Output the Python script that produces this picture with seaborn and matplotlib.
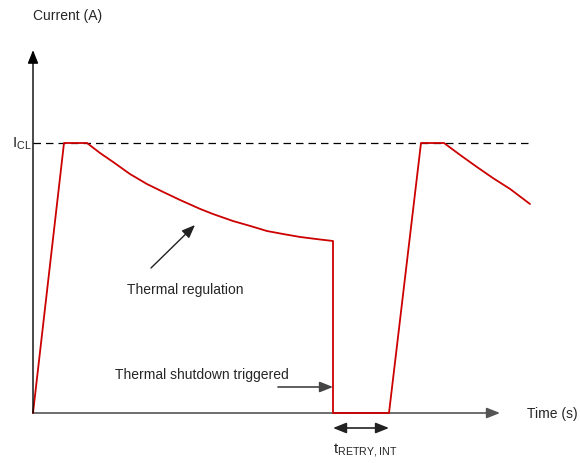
import matplotlib
matplotlib.use("Agg")
import matplotlib.pyplot as plt
import pandas as pd
import seaborn as sns

# Current waveform during thermal regulation / shutdown / auto-retry
time_s = [0.0, 3.1, 5.4, 6.7, 8.0, 9.7, 11.4, 13.0, 14.7, 16.7, 18.0, 20.0,
          21.7, 23.4, 25.0, 26.7, 28.4, 30.0,
          30.0, 35.6, 38.8, 41.1, 42.7, 44.4, 46.0, 47.7, 49.7]
current_a = [0.0, 1.0, 1.0, 0.963, 0.930, 0.885, 0.848, 0.819, 0.789, 0.756, 0.737, 0.711,
             0.693, 0.674, 0.663, 0.652, 0.644, 0.637,
             0.0, 0.0, 1.0, 1.0, 0.956, 0.911, 0.870, 0.830, 0.774]
current_limit = 1.0
retry_start, retry_end = 30.0, 35.6

sns.set_style("white")
plt.rcParams["font.family"] = ["Liberation Sans", "DejaVu Sans"]
plt.rcParams["mathtext.fontset"] = "custom"
plt.rcParams["mathtext.rm"] = "Liberation Sans"

fig = plt.figure(figsize=(5.8, 4.64), dpi=100)
ax = fig.add_axes([0, 0, 1, 1])
ax.set_xlim(-3.3, 54.7)
ax.set_ylim(-50 / 270, 414 / 270)
ax.axis("off")

df = pd.DataFrame({"t": time_s, "i": current_a})
sns.lineplot(data=df, x="t", y="i", sort=False, estimator=None,
             color="#cc0000", linewidth=1.3, ax=ax, zorder=3)

# I_CL dashed reference
ax.plot([0, 49.7], [current_limit, current_limit], color="black",
        linestyle=(0, (6, 4)), linewidth=0.9, zorder=2)

head = "-|>,head_length=0.8,head_width=0.32"
# axes with arrowheads
ax.annotate("", xy=(0, 1.344), xytext=(0, 0),
            arrowprops=dict(arrowstyle=head, color="black", lw=1.0,
                            shrinkA=0, shrinkB=0))
ax.annotate("", xy=(46.7, 0), xytext=(0, 0),
            arrowprops=dict(arrowstyle=head, color="#555555", lw=1.2,
                            shrinkA=0, shrinkB=0), zorder=1)

fs = 10
ax.text(0.0, 398 / 270, "Current (A)", fontsize=fs, ha="left", va="center")
ax.text(49.4, 0.0, "Time (s)", fontsize=fs, ha="left", va="center")
ax.text(-2.1, current_limit, r"$\mathregular{I_{CL}}$", fontsize=fs + 1,
        ha="left", va="center")

# thermal regulation callout
ax.annotate("", xy=(16.2, 188 / 270), xytext=(11.8, 145 / 270),
            arrowprops=dict(arrowstyle=head, color="#222222", lw=1.0,
                            shrinkA=0, shrinkB=0))
ax.text(9.4, 124 / 270, "Thermal regulation", fontsize=fs, ha="left", va="center")

# thermal shutdown callout
ax.annotate("", xy=(30.0, 26 / 270), xytext=(24.5, 26 / 270),
            arrowprops=dict(arrowstyle=head, color="#444444", lw=1.2,
                            shrinkA=0, shrinkB=0))
ax.text(8.2, 39 / 270, "Thermal shutdown triggered", fontsize=fs,
        ha="left", va="center")

# retry interval
ax.annotate("", xy=(retry_end, -15 / 270), xytext=(retry_start, -15 / 270),
            arrowprops=dict(arrowstyle="<|-|>,head_length=0.8,head_width=0.32",
                            color="#222222", lw=1.2, shrinkA=0, shrinkB=0))
ax.text(retry_start, -36 / 270, r"$\mathregular{t_{RETRY,INT}}$", fontsize=fs + 1,
        ha="left", va="center")

fig.savefig("out.png", dpi=100)
